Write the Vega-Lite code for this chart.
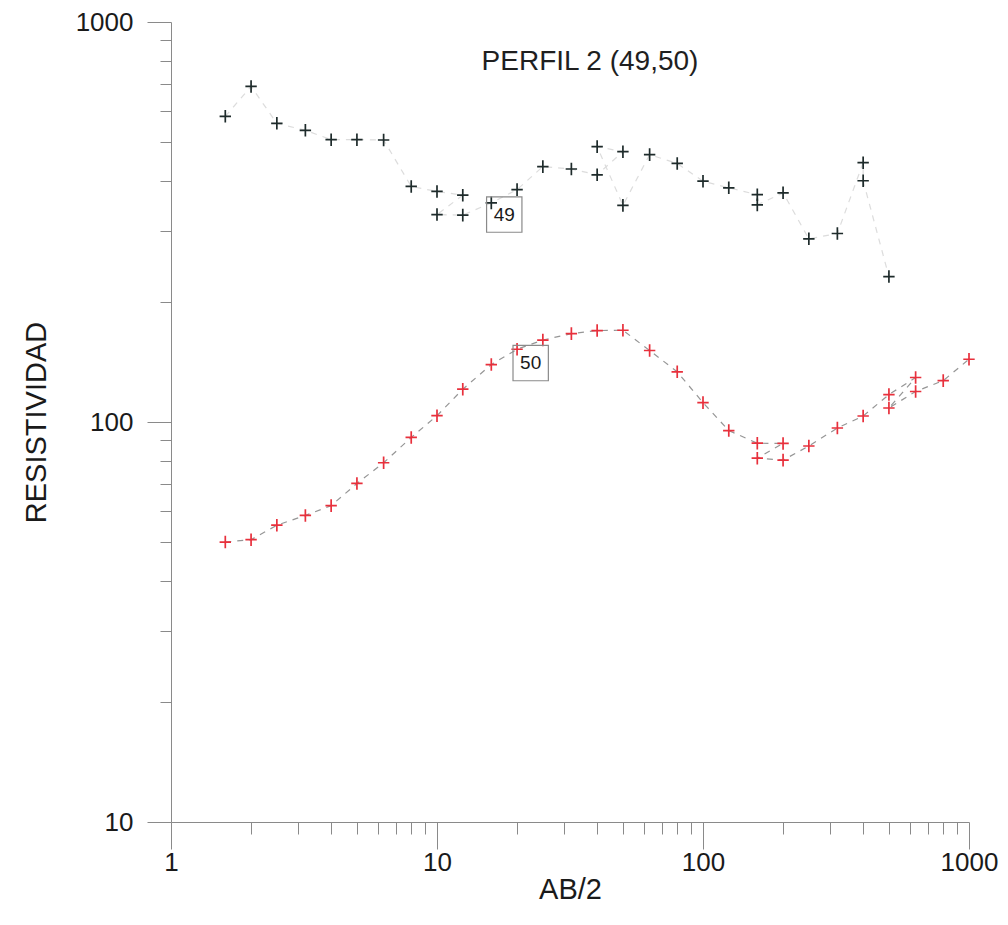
{
  "$schema": "https://vega.github.io/schema/vega-lite/v6.json",
  "width": 798,
  "height": 800,
  "autosize": {"type": "none"},
  "padding": {"left": 171, "top": 22, "right": 39, "bottom": 103},
  "background": "white",
  "config": {
    "view": {"stroke": null},
    "axis": {
      "grid": false,
      "domainColor": "#8a8a8a",
      "tickColor": "#8a8a8a",
      "labelFont": "Liberation Sans",
      "labelFontSize": 26,
      "labelColor": "#1a1a1a",
      "titleFont": "Liberation Sans",
      "titleFontSize": 29,
      "titleFontWeight": "normal",
      "titleColor": "#1a1a1a",
      "labelOverlap": false,
      "labelFlush": false
    }
  },
  "datasets": {
    "pts": [
      {"serie": "49", "seq": 1, "ab": 1.6, "rho": 581},
      {"serie": "49", "seq": 2, "ab": 2, "rho": 690},
      {"serie": "49", "seq": 3, "ab": 2.5, "rho": 558},
      {"serie": "49", "seq": 4, "ab": 3.2, "rho": 536},
      {"serie": "49", "seq": 5, "ab": 4, "rho": 508},
      {"serie": "49", "seq": 6, "ab": 5, "rho": 508},
      {"serie": "49", "seq": 7, "ab": 6.3, "rho": 507},
      {"serie": "49", "seq": 8, "ab": 8, "rho": 388},
      {"serie": "49", "seq": 9, "ab": 10, "rho": 377},
      {"serie": "49", "seq": 10, "ab": 12.5, "rho": 369},
      {"serie": "49", "seq": 11, "ab": 10, "rho": 330},
      {"serie": "49", "seq": 12, "ab": 12.5, "rho": 329},
      {"serie": "49", "seq": 13, "ab": 16, "rho": 353},
      {"serie": "49", "seq": 14, "ab": 20, "rho": 381},
      {"serie": "49", "seq": 15, "ab": 25, "rho": 435},
      {"serie": "49", "seq": 16, "ab": 32, "rho": 429},
      {"serie": "49", "seq": 17, "ab": 40, "rho": 415},
      {"serie": "49", "seq": 18, "ab": 50, "rho": 474},
      {"serie": "49", "seq": 19, "ab": 40, "rho": 488},
      {"serie": "49", "seq": 20, "ab": 50, "rho": 348},
      {"serie": "49", "seq": 21, "ab": 63, "rho": 466},
      {"serie": "49", "seq": 22, "ab": 80, "rho": 443},
      {"serie": "49", "seq": 23, "ab": 100, "rho": 400},
      {"serie": "49", "seq": 24, "ab": 125, "rho": 385},
      {"serie": "49", "seq": 25, "ab": 160, "rho": 370},
      {"serie": "49", "seq": 26, "ab": 160, "rho": 349},
      {"serie": "49", "seq": 27, "ab": 200, "rho": 374},
      {"serie": "49", "seq": 28, "ab": 250, "rho": 287},
      {"serie": "49", "seq": 29, "ab": 320, "rho": 296},
      {"serie": "49", "seq": 30, "ab": 400, "rho": 445},
      {"serie": "49", "seq": 31, "ab": 400, "rho": 401},
      {"serie": "49", "seq": 32, "ab": 500, "rho": 231},
      {"serie": "50", "seq": 1, "ab": 1.6, "rho": 50.1},
      {"serie": "50", "seq": 2, "ab": 2, "rho": 50.8},
      {"serie": "50", "seq": 3, "ab": 2.5, "rho": 55.2},
      {"serie": "50", "seq": 4, "ab": 3.2, "rho": 58.4},
      {"serie": "50", "seq": 5, "ab": 4, "rho": 61.8},
      {"serie": "50", "seq": 6, "ab": 5, "rho": 70.2},
      {"serie": "50", "seq": 7, "ab": 6.3, "rho": 79.1},
      {"serie": "50", "seq": 8, "ab": 8, "rho": 91.5},
      {"serie": "50", "seq": 9, "ab": 10, "rho": 103.7},
      {"serie": "50", "seq": 10, "ab": 12.5, "rho": 120.8},
      {"serie": "50", "seq": 11, "ab": 16, "rho": 139.2},
      {"serie": "50", "seq": 12, "ab": 20, "rho": 152},
      {"serie": "50", "seq": 13, "ab": 25, "rho": 160.3},
      {"serie": "50", "seq": 14, "ab": 32, "rho": 166.3},
      {"serie": "50", "seq": 15, "ab": 40, "rho": 169.3},
      {"serie": "50", "seq": 16, "ab": 50, "rho": 169.6},
      {"serie": "50", "seq": 17, "ab": 63, "rho": 150.9},
      {"serie": "50", "seq": 18, "ab": 80, "rho": 133.5},
      {"serie": "50", "seq": 19, "ab": 100, "rho": 111.8},
      {"serie": "50", "seq": 20, "ab": 125, "rho": 95.2},
      {"serie": "50", "seq": 21, "ab": 160, "rho": 88.5},
      {"serie": "50", "seq": 22, "ab": 200, "rho": 88.4},
      {"serie": "50", "seq": 23, "ab": 160, "rho": 81.2},
      {"serie": "50", "seq": 24, "ab": 200, "rho": 80.3},
      {"serie": "50", "seq": 25, "ab": 250, "rho": 87.1},
      {"serie": "50", "seq": 26, "ab": 320, "rho": 96.6},
      {"serie": "50", "seq": 27, "ab": 400, "rho": 103.5},
      {"serie": "50", "seq": 28, "ab": 500, "rho": 117.1},
      {"serie": "50", "seq": 29, "ab": 630, "rho": 129.2},
      {"serie": "50", "seq": 30, "ab": 500, "rho": 108.4},
      {"serie": "50", "seq": 31, "ab": 630, "rho": 119.2},
      {"serie": "50", "seq": 32, "ab": 800, "rho": 126.9},
      {"serie": "50", "seq": 33, "ab": 1000, "rho": 143.5}
    ],
    "labs": [
      {"serie": "49", "ab": 17.9, "rho": 330},
      {"serie": "50", "ab": 22.5, "rho": 140.4}
    ],
    "heading": [
      {"titulo": "PERFIL 2 (49,50)", "ab": 37.6, "rho": 794}
    ]
  },
  "encoding": {
    "x": {
      "field": "ab",
      "type": "quantitative",
      "scale": {"type": "log", "domain": [1, 1000], "nice": false},
      "axis": {
        "title": "AB/2",
        "values": [1, 2, 3, 4, 5, 6, 7, 8, 9, 10, 20, 30, 40, 50, 60, 70, 80, 90, 100, 200, 300, 400, 500, 600, 700, 800, 900, 1000],
        "labelExpr": "indexof([1, 10, 100, 1000], datum.value) >= 0 ? '' + datum.value : ''",
        "tickSize": {"condition": {"test": "indexof([1, 10, 100, 1000], datum.value) >= 0", "value": 27}, "value": 12},
        "labelPadding": 0,
        "titlePadding": 0
      }
    },
    "y": {
      "field": "rho",
      "type": "quantitative",
      "scale": {"type": "log", "domain": [10, 1000], "nice": false},
      "axis": {
        "title": "RESISTIVIDAD",
        "values": [10, 20, 30, 40, 50, 60, 70, 80, 90, 100, 200, 300, 400, 500, 600, 700, 800, 900, 1000],
        "labelExpr": "indexof([10, 100, 1000], datum.value) >= 0 ? '' + datum.value : ''",
        "tickSize": {"condition": {"test": "indexof([10, 100, 1000], datum.value) >= 0", "value": 24}, "value": 11},
        "labelPadding": 14,
        "titlePadding": 24
      }
    }
  },
  "layer": [
    {
      "data": {"name": "pts"},
      "mark": {"type": "line", "strokeDash": [6, 6], "strokeWidth": 1.2, "color": "#8a8a8a"},
      "encoding": {
        "detail": {"field": "serie"},
        "order": {"field": "seq", "type": "quantitative"},
        "opacity": {"field": "serie", "type": "nominal", "scale": {"domain": ["49", "50"], "range": [0.3, 0.9]}, "legend": null}
      }
    },
    {
      "data": {"name": "pts"},
      "mark": {"type": "point", "shape": "M-1,0H1M0,-1.1V1.1", "filled": false, "size": 130, "strokeWidth": 1.7, "opacity": 1},
      "encoding": {
        "color": {"field": "serie", "type": "nominal", "scale": {"domain": ["49", "50"], "range": ["#1e2b2b", "#e8303c"]}, "legend": null}
      }
    },
    {
      "data": {"name": "labs"},
      "mark": {"type": "point", "shape": "square", "filled": false, "size": 1250, "stroke": "#8a8a8a", "strokeWidth": 1.2, "opacity": 1}
    },
    {
      "data": {"name": "labs"},
      "mark": {"type": "text", "font": "Liberation Sans", "fontSize": 19, "color": "#1a1a1a", "baseline": "middle", "align": "center"},
      "encoding": {"text": {"field": "serie"}}
    },
    {
      "data": {"name": "heading"},
      "mark": {"type": "text", "font": "Liberation Sans", "fontSize": 28, "color": "#1f1f1f", "baseline": "middle", "align": "center"},
      "encoding": {"text": {"field": "titulo"}}
    }
  ]
}
